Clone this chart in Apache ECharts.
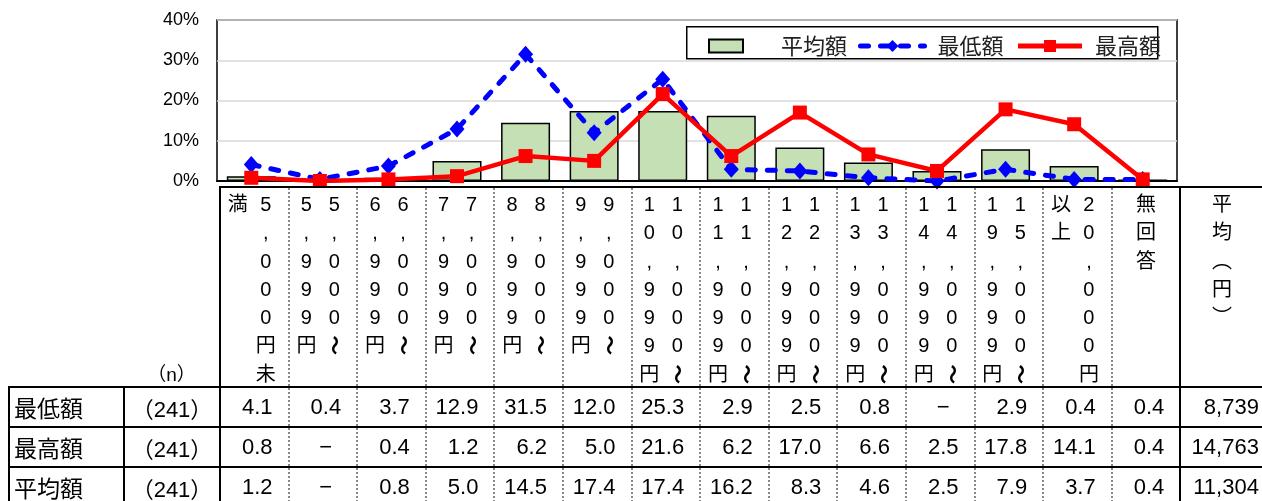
<!DOCTYPE html>
<html>
<head>
<meta charset="utf-8">
<script src="https://cdn.jsdelivr.net/npm/echarts@6/dist/echarts.min.js"></script>
<style>
    body{margin:0;background:#fff;width:1262px;height:501px;overflow:hidden;position:relative;
        font-family:"Liberation Sans","Noto Sans CJK JP",sans-serif;color:#000;}
    #myChart{position:absolute;left:0;top:0;width:1262px;height:190px;}
    #tbl{position:absolute;left:8px;top:186px;border-collapse:collapse;table-layout:fixed;width:1254px;}
    #tbl td{padding:0;box-sizing:border-box;}
    #tbl tr.head td{height:200px;vertical-align:top;}
    #tbl tr.row td{height:40px;font-size:22px;text-align:right;padding-right:15px;
        border-top:2px solid #000;border-bottom:2px solid #000;border-left:2px dotted #888;}
    #tbl tr.row td.lab{text-align:left;padding-left:4px;padding-right:0;font-family:"Noto Sans CJK JP";font-size:23px;
        border-left:2px solid #000;border-right:2px solid #000;}
    #tbl tr.row td.n{text-align:center;padding-right:0;border-right:2px solid #000;}
    #tbl tr.row td.dash{padding-right:24px;}
    #tbl tr.row td.avg{border-left:2px solid #000;padding-right:4px;}
    #tbl td.hc{border-top:2px solid #000;border-left:2px dotted #888;}
    #tbl td.hc.first{border-left:2px solid #000;}
    #tbl td.hc.avg{border-left:2px solid #000;}
    #tbl td.nh{vertical-align:bottom !important;text-align:center;font-size:19px;}
    .vt{display:flex;flex-direction:row-reverse;justify-content:center;align-items:flex-start;gap:8px;
        padding-top:2px;padding-right:5px;height:190px;box-sizing:border-box;overflow:visible;}
    .vt.one{padding-right:0;}
    .col{width:20px;font-size:20px;line-height:28.3px;text-align:center;}
    .col div{height:28.3px;}
    .rot{display:inline-block;transform:rotate(90deg);font-weight:bold;}
</style>
</head>
<body>
<div id="myChart"></div>
<table id="tbl"></table>
<script>
    var categories = ['5,000円未満', '5,000～5,999円', '6,000～6,999円', '7,000～7,999円', '8,000～8,999円',
        '9,000～9,999円', '10,000～10,999円', '11,000～11,999円', '12,000～12,999円', '13,000～13,999円',
        '14,000～14,999円', '15,000～19,999円', '20,000円以上', '無回答'];
    var minVals = [4.1, 0.4, 3.7, 12.9, 31.5, 12.0, 25.3, 2.9, 2.5, 0.8, 0, 2.9, 0.4, 0.4];
    var maxVals = [0.8, 0, 0.4, 1.2, 6.2, 5.0, 21.6, 6.2, 17.0, 6.6, 2.5, 17.8, 14.1, 0.4];
    var avgVals = [1.2, 0, 0.8, 5.0, 14.5, 17.4, 17.4, 16.2, 8.3, 4.6, 2.5, 7.9, 3.7, 0.4];
    var rowNames = ['最低額', '最高額', '平均額'];
    var rowN = [241, 241, 241];
    var rowYen = [8739, 14763, 11304];
    var yTicks = [0, 10, 20, 30, 40];

    /*グラフ部分*/
    var myChart = echarts.init(document.getElementById('myChart'));
    var option = {
        animation: false,
        grid: {left: 217, top: 20, width: 960, height: 163, show: true, borderColor: '#000', borderWidth: 1.5,
            backgroundColor: '#fff'},
        graphic: [{type: 'rect', left: 686, top: 26, z: 3,
            shape: {width: 471, height: 32}, style: {fill: '#fff', stroke: '#000', lineWidth: 1.5}}],
        legend: [
            {data: [{name: '平均額', icon: 'rect'}], left: 703, top: 30, z: 5, itemWidth: 34, itemHeight: 13,
                textStyle: {fontSize: 22, color: '#222', fontFamily: 'Noto Sans CJK JP', padding: [0, 0, 0, 33]}},
            {data: ['最低額', '最高額'], left: 853, top: 30, z: 5, itemWidth: 64, itemHeight: 15, itemGap: 12,
                lineStyle: {width: 5},
                textStyle: {fontSize: 22, color: '#222', fontFamily: 'Noto Sans CJK JP', padding: [0, 0, 0, 8]}}
        ],
        xAxis: {
            type: 'category',
            data: categories,
            axisLabel: {show: false},
            axisTick: {show: false},
            axisLine: {lineStyle: {color: '#000', width: 2}}
        },
        yAxis: {
            type: 'value',
            min: yTicks[0],
            max: yTicks[yTicks.length - 1],
            interval: 10,
            axisLine: {show: false},
            axisTick: {show: false},
            axisLabel: {formatter: '{value}%', color: '#000', fontSize: 18, fontFamily: 'Liberation Sans', margin: 18},
            splitLine: {lineStyle: {color: '#d9d9d9', width: 1.5}}
        },
        series: [
            {
                name: '平均額',
                type: 'bar',
                data: avgVals,
                barWidth: 49,
                itemStyle: {color: '#c5e0b4', borderColor: '#000', borderWidth: 1.5}
            },
            {
                name: '最低額',
                type: 'line',
                data: minVals,
                symbol: 'diamond',
                symbolSize: [15, 17],
                lineStyle: {color: '#0000ff', width: 5, type: [8, 12], cap: 'round'},
                itemStyle: {color: '#0000ff'}
            },
            {
                name: '最高額',
                type: 'line',
                data: maxVals,
                symbol: 'rect',
                symbolSize: 14,
                lineStyle: {color: '#ff0000', width: 4.5},
                itemStyle: {color: '#ff0000'}
            }
        ]
    };
    myChart.setOption(option);

    /*表部分*/
    function splitLabel(s) {
        var i = s.indexOf('～');
        if (i >= 0) return [s.slice(0, i + 1), s.slice(i + 1)];
        if (s.length > 7) return [s.slice(0, 7), s.slice(7)];
        return [s];
    }
    function colHtml(t) {
        var h = '<div class="col">';
        for (var i = 0; i < t.length; i++) {
            var ch = t[i];
            if (ch == '～') ch = '<span class="rot">～</span>';
            else if (ch == '（') ch = '︵';
            else if (ch == '）') ch = '︶';
            h += '<div>' + ch + '</div>';
        }
        return h + '</div>';
    }
    function vtHtml(s) {
        var parts = splitLabel(s);
        var h = '<div class="vt' + (parts.length == 1 ? ' one' : '') + '">';
        for (var i = 0; i < parts.length; i++) h += colHtml(parts[i]);
        return h + '</div>';
    }
    function fmt(v) {
        return v == 0 ? '−' : v.toFixed(1);
    }

    var sb = '<colgroup><col style="width:115px"><col style="width:96px">';
    for (var i = 0; i < categories.length; i++) sb += '<col style="width:68.6px">';
    sb += '<col style="width:82.6px"></colgroup>';
    sb += '<tr class="head"><td></td><td class="nh">（n）</td>';
    for (var i = 0; i < categories.length; i++) {
        sb += '<td class="hc' + (i == 0 ? ' first' : '') + '">' + vtHtml(categories[i]) + '</td>';
    }
    sb += '<td class="hc avg">' + vtHtml('平均（円）') + '</td></tr>';
    var rows = [minVals, maxVals, avgVals];
    for (var r = 0; r < rows.length; r++) {
        sb += '<tr class="row"><td class="lab">' + rowNames[r] + '</td><td class="n">（' + rowN[r] + '）</td>';
        for (var i = 0; i < rows[r].length; i++) {
            sb += '<td' + (rows[r][i] == 0 ? ' class="dash"' : '') + '>' + fmt(rows[r][i]) + '</td>';
        }
        sb += '<td class="avg">' + rowYen[r].toLocaleString('en-US') + '</td></tr>';
    }
    document.getElementById('tbl').innerHTML = sb;
</script>
</body>
</html>
